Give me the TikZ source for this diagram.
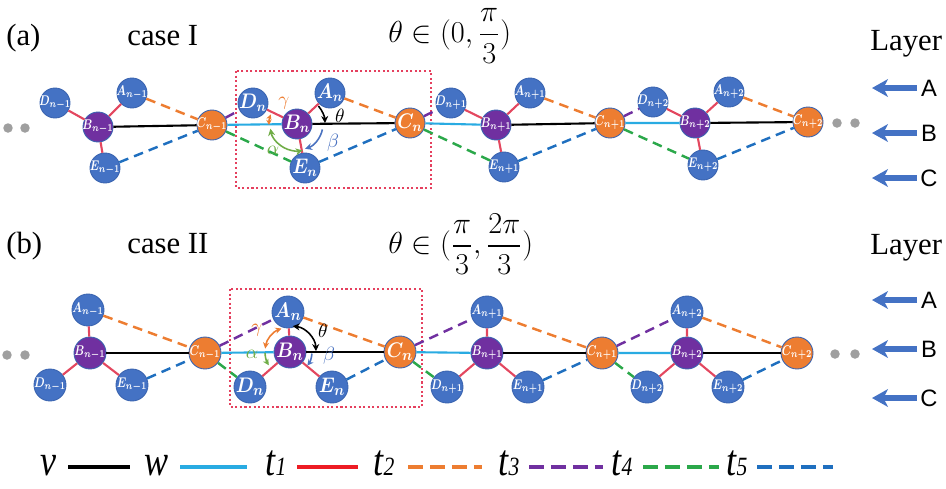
\documentclass[tikz,border=0pt]{standalone}
\usepackage{amsmath}
\usepackage{graphicx}
\usepackage{fontspec}
\setmainfont{Liberation Serif}
\newfontfamily\arialfont{Liberation Sans}
\usetikzlibrary{arrows.meta}
\definecolor{nodeblue}{HTML}{4472C4}
\definecolor{nodeline}{HTML}{3A64B0}
\definecolor{nodepurple}{HTML}{7030A0}
\definecolor{nodeorange}{HTML}{ED7D31}
\definecolor{bondred}{HTML}{E3475F}
\definecolor{legred}{HTML}{ED1C24}
\definecolor{wblue}{HTML}{29ABE2}
\definecolor{tgreen}{HTML}{2BA84A}
\definecolor{tblue}{HTML}{1F6FBF}
\definecolor{boxred}{HTML}{E5405E}
\definecolor{alphagreen}{HTML}{70AD47}
\definecolor{betablue}{HTML}{4A72C0}

\newcommand{\nlab}[2]{\makebox[0pt]{\scalebox{0.74}[1]{$\boldsymbol{#1_{#2}}$}}}
\newcommand{\mlab}[2]{\makebox[0pt]{\scalebox{0.88}[1]{$\boldsymbol{#1_{#2}}$}}}
\newcommand{\legsym}[1]{\scalebox{0.82}[1]{#1}}

\begin{document}
\begin{tikzpicture}[
      x=0.02cm, y=0.02cm,
      atom/.style={circle, draw=nodeline, line width=0.5pt, inner sep=0pt,
                   minimum size=0.6cm, text=white,
                   font=\fontsize{8.5}{8.5}\selectfont},
      sa/.style={atom, fill=nodeblue},
      sb/.style={atom, fill=nodepurple},
      sc/.style={atom, fill=nodeorange},
      big/.style={font=\fontsize{11.5}{11.5}\selectfont},
      bigger/.style={font=\fontsize{12.5}{12.5}\selectfont},
      wide/.style={minimum size=0.64cm},
      dotnd/.style={circle, fill=gray!75, inner sep=0pt, minimum size=0.19cm},
      vbond/.style={black, line width=1.2pt},
      wbond/.style={wblue, line width=1.2pt},
      tbond1/.style={bondred, line width=1.2pt},
      tbond2/.style={nodeorange, line width=1.4pt, dash pattern=on 5.5pt off 3.5pt},
      tbond3/.style={nodepurple, line width=1.4pt, dash pattern=on 5.5pt off 3.5pt},
      tbond4/.style={tgreen, line width=1.4pt, dash pattern=on 5.5pt off 3.5pt},
      tbond5/.style={tblue, line width=1.4pt, dash pattern=on 5.5pt off 3.5pt},
      cellbox/.style={boxred, line width=1.2pt, dash pattern=on 1.2pt off 1.4pt},
      ttl/.style={font=\fontsize{17.5}{20}\selectfont, inner sep=0pt},
      laytxt/.style={font=\arialfont\fontsize{13.5}{14}\selectfont, inner sep=2pt},
      layarr/.style={nodeblue, line width=3.4pt, -{Stealth[length=9pt, width=10pt, inset=2.5pt]}},
      angarr/.style={line width=0.9pt},
      anglbl/.style={font=\fontsize{11}{11}\selectfont, inner sep=0pt},
      legtxt/.style={font=\fontsize{25}{25}\selectfont\itshape, inner sep=0pt},
      legln/.style={line width=2.3pt},
      legdash/.style={line width=2.3pt, dash pattern=on 8.5pt off 4pt}
    ]
    \useasboundingbox (0,0) rectangle (946,-488);

    % ---------- (a) case I ----------
    \node[ttl, anchor=base west] (tagA)   at (6,-45)   {(a)};
    \node[ttl, anchor=base west] (caseA)  at (127,-45) {case I};
    \node[ttl, anchor=west]      (rangeA) at (388,-36) {$\theta\in(0,\dfrac{\pi}{3})$};
    \node[ttl, anchor=base west] (layerA) at (870,-50) {Layer};

    \draw[cellbox] (236,-71) rectangle (431,-188);

    \node[dotnd] (aL1) at (8,-128)  {};
    \node[dotnd] (aL2) at (25,-128) {};
    \node[dotnd] (aR1) at (837,-123) {};
    \node[dotnd] (aR2) at (855,-123) {};

    \node[sa] (aD1) at (55,-103)  {\nlab{D}{n-1}};
    \node[sa] (aA1) at (132,-93)  {\nlab{A}{n-1}};
    \node[sb] (aB1) at (98,-127)  {\nlab{B}{n-1}};
    \node[sa] (aE1) at (105,-168) {\nlab{E}{n-1}};
    \node[sc] (aC1) at (212,-125) {\nlab{C}{n-1}};

    \node[sa, big] (aD2) at (253,-103) {\mlab{D}{n}};
    \node[sa, big] (aA2) at (330,-93)  {\mlab{A}{n}};
    \node[sb, big] (aB2) at (297,-124) {\mlab{B}{n}};
    \node[sa, big] (aE2) at (305,-168) {\mlab{E}{n}};
    \node[sc, big] (aC2) at (410,-123) {\mlab{C}{n}};

    \node[sa] (aD3) at (451,-103) {\nlab{D}{n+1}};
    \node[sa] (aA3) at (530,-93)  {\nlab{A}{n+1}};
    \node[sb] (aB3) at (496,-125) {\nlab{B}{n+1}};
    \node[sa] (aE3) at (504,-167) {\nlab{E}{n+1}};
    \node[sc] (aC3) at (610,-123) {\nlab{C}{n+1}};

    \node[sa] (aD4) at (653,-102) {\nlab{D}{n+2}};
    \node[sa] (aA4) at (729,-92)  {\nlab{A}{n+2}};
    \node[sb] (aB4) at (695,-123) {\nlab{B}{n+2}};
    \node[sa] (aE4) at (703,-165) {\nlab{E}{n+2}};
    \node[sc] (aC4) at (808,-122) {\nlab{C}{n+2}};

    \draw[vbond] (aB1) -- (aC1) (aB2) -- (aC2) (aB3) -- (aC3) (aB4) -- (aC4);
    \draw[wbond] (aC1) -- (aB2) (aC2) -- (aB3) (aC3) -- (aB4);
    \draw[tbond1] (aB1) -- (aA1) (aB1) -- (aD1) (aB1) -- (aE1)
                  (aB2) -- (aA2) (aB2) -- (aD2) (aB2) -- (aE2)
                  (aB3) -- (aA3) (aB3) -- (aD3) (aB3) -- (aE3)
                  (aB4) -- (aA4) (aB4) -- (aD4) (aB4) -- (aE4);
    \draw[tbond2] (aA1) -- (aC1) (aA2) -- (aC2) (aA3) -- (aC3) (aA4) -- (aC4);
    \draw[tbond3] (aC1) -- (aD2) (aC2) -- (aD3) (aC3) -- (aD4);
    \draw[tbond4] (aC1) -- (aE2) (aC2) -- (aE3) (aC3) -- (aE4);
    \draw[tbond5] (aE1) -- (aC1) (aE2) -- (aC2) (aE3) -- (aC3) (aE4) -- (aC4);

    % angles around B_n
    \draw[angarr, black, -{Stealth[length=4pt,width=4pt]}]
      ([shift={(40:0.56cm)}]aB2.center) arc[start angle=40, end angle=2, radius=0.56cm];
    \draw[angarr, betablue, -{Stealth[length=4pt,width=4pt]}]
      ([shift={(-12:0.52cm)}]aB2.center) arc[start angle=-12, end angle=-72, radius=0.52cm];
    \draw[angarr, alphagreen, {Stealth[length=4pt,width=4pt]}-{Stealth[length=4pt,width=4pt]}]
      ([shift={(190:0.54cm)}]aB2.center) arc[start angle=190, end angle=282, radius=0.54cm];
    \draw[angarr, nodeorange, {Stealth[length=3pt,width=3pt]}-{Stealth[length=3pt,width=3pt]}]
      ([shift={(160:0.56cm)}]aB2.center) arc[start angle=160, end angle=182, radius=0.56cm];
    \node[anglbl]                    (thA) at (340,-116) {$\theta$};
    \node[anglbl, text=betablue]     (btA) at (333,-143) {$\beta$};
    \node[anglbl, text=alphagreen]   (alA) at (273,-150) {$\alpha$};
    \node[anglbl, text=nodeorange]   (gmA) at (284,-103) {$\gamma$};

    % layer arrows
    \node[laytxt] (layA) at (929,-88)  {A};
    \node[laytxt] (layB) at (929,-133) {B};
    \node[laytxt] (layC) at (929,-178) {C};
    \coordinate (tipA) at (872,-88);
    \coordinate (tipB) at (872,-133);
    \coordinate (tipC) at (872,-178);
    \draw[layarr] (layA) -- (tipA);
    \draw[layarr] (layB) -- (tipB);
    \draw[layarr] (layC) -- (tipC);

    % ---------- (b) case II ----------
    \node[ttl, anchor=base west] (tagB)   at (6,-253)   {(b)};
    \node[ttl, anchor=base west] (caseB)  at (127,-253) {case II};
    \node[ttl, anchor=west]      (rangeB) at (388,-244) {$\theta\in(\dfrac{\pi}{3},\dfrac{2\pi}{3})$};
    \node[ttl, anchor=base west] (layerB) at (870,-254) {Layer};

    \draw[cellbox] (230,-289) rectangle (422,-407);

    \node[dotnd] (bL1) at (7,-355)  {};
    \node[dotnd] (bL2) at (25,-355) {};
    \node[dotnd] (bR1) at (835,-354) {};
    \node[dotnd] (bR2) at (855,-354) {};

    \node[sa, wide] (bA1) at (88,-310)  {\nlab{A}{n-1}};
    \node[sb, wide] (bB1) at (90,-353)  {\nlab{B}{n-1}};
    \node[sa, wide] (bD1) at (50,-385)  {\nlab{D}{n-1}};
    \node[sa, wide] (bE1) at (132,-385) {\nlab{E}{n-1}};
    \node[sc, wide] (bC1) at (205,-353) {\nlab{C}{n-1}};

    \node[sa, wide, bigger] (bA2) at (288,-312) {\mlab{A}{n}};
    \node[sb, wide, bigger] (bB2) at (290,-352) {\mlab{B}{n}};
    \node[sa, wide, bigger] (bD2) at (250,-387) {\mlab{D}{n}};
    \node[sa, wide, bigger] (bE2) at (332,-387) {\mlab{E}{n}};
    \node[sc, wide, bigger] (bC2) at (400,-352) {\mlab{C}{n}};

    \node[sa, wide] (bD3) at (447,-387) {\nlab{D}{n+1}};
    \node[sa, wide] (bA3) at (487,-312) {\nlab{A}{n+1}};
    \node[sb, wide] (bB3) at (487,-353) {\nlab{B}{n+1}};
    \node[sa, wide] (bE3) at (528,-387) {\nlab{E}{n+1}};
    \node[sc, wide] (bC3) at (602,-353) {\nlab{C}{n+1}};

    \node[sa, wide] (bD4) at (647,-387) {\nlab{D}{n+2}};
    \node[sa, wide] (bA4) at (687,-312) {\nlab{A}{n+2}};
    \node[sb, wide] (bB4) at (687,-353) {\nlab{B}{n+2}};
    \node[sa, wide] (bE4) at (728,-387) {\nlab{E}{n+2}};
    \node[sc, wide] (bC4) at (797,-353) {\nlab{C}{n+2}};

    \draw[vbond] (bB1) -- (bC1) (bB2) -- (bC2) (bB3) -- (bC3) (bB4) -- (bC4);
    \draw[wbond] (bC1) -- (bB2) (bC2) -- (bB3) (bC3) -- (bB4);
    \draw[tbond1] (bB1) -- (bA1) (bB1) -- (bD1) (bB1) -- (bE1)
                  (bB2) -- (bA2) (bB2) -- (bD2) (bB2) -- (bE2)
                  (bB3) -- (bA3) (bB3) -- (bD3) (bB3) -- (bE3)
                  (bB4) -- (bA4) (bB4) -- (bD4) (bB4) -- (bE4);
    \draw[tbond2] (bA1) -- (bC1) (bA2) -- (bC2) (bA3) -- (bC3) (bA4) -- (bC4);
    \draw[tbond3] (bC1) -- (bA2) (bC2) -- (bA3) (bC3) -- (bA4);
    \draw[tbond4] (bC1) -- (bD2) (bC2) -- (bD3) (bC3) -- (bD4);
    \draw[tbond5] (bE1) -- (bC1) (bE2) -- (bC2) (bE3) -- (bC3) (bE4) -- (bC4);

    % angles around B_n
    \draw[angarr, black, {Stealth[length=4pt,width=4pt]}-{Stealth[length=4pt,width=4pt]}]
      ([shift={(84:0.52cm)}]bB2.center) arc[start angle=84, end angle=2, radius=0.52cm];
    \draw[angarr, nodeorange, {Stealth[length=3.5pt,width=3.5pt]}-{Stealth[length=3.5pt,width=3.5pt]}]
      ([shift={(110:0.5cm)}]bB2.center) arc[start angle=110, end angle=172, radius=0.5cm];
    \draw[angarr, alphagreen, -{Stealth[length=3.5pt,width=3.5pt]}]
      ([shift={(182:0.5cm)}]bB2.center) arc[start angle=182, end angle=212, radius=0.5cm];
    \draw[angarr, betablue, -{Stealth[length=3.5pt,width=3.5pt]}]
      ([shift={(-4:0.44cm)}]bB2.center) arc[start angle=-4, end angle=-38, radius=0.44cm];
    \node[anglbl]                    (thB) at (323,-331) {$\theta$};
    \node[anglbl, text=nodeorange]   (gmB) at (257,-330) {$\gamma$};
    \node[anglbl, text=alphagreen]   (alB) at (252,-354) {$\alpha$};
    \node[anglbl, text=betablue]     (btB) at (329,-356) {$\beta$};

    % layer arrows
    \node[laytxt] (layA2) at (929,-300) {A};
    \node[laytxt] (layB2) at (929,-349) {B};
    \node[laytxt] (layC2) at (929,-398) {C};
    \coordinate (tipA2) at (872,-300);
    \coordinate (tipB2) at (872,-349);
    \coordinate (tipC2) at (872,-398);
    \draw[layarr] (layA2) -- (tipA2);
    \draw[layarr] (layB2) -- (tipB2);
    \draw[layarr] (layC2) -- (tipC2);

    % ---------- legend ----------
    \node[legtxt, anchor=base] (legv)  at (48,-475)  {\legsym{v}};
    \node[legtxt, anchor=base] (legw)  at (157,-475) {\legsym{w}};
    \node[legtxt, anchor=base] (legt1) at (276,-475) {\legsym{t{\fontsize{15}{15}\selectfont 1}}};
    \node[legtxt, anchor=base] (legt2) at (384,-475) {\legsym{t{\fontsize{15}{15}\selectfont 2}}};
    \node[legtxt, anchor=base] (legt3) at (509,-475) {\legsym{t{\fontsize{15}{15}\selectfont 3}}};
    \node[legtxt, anchor=base] (legt4) at (622,-475) {\legsym{t{\fontsize{15}{15}\selectfont 4}}};
    \node[legtxt, anchor=base] (legt5) at (737,-475) {\legsym{t{\fontsize{15}{15}\selectfont 5}}};
    \coordinate (v0) at (68,-467);   \coordinate (v1) at (130,-467);
    \coordinate (w0) at (180,-467);  \coordinate (w1) at (247,-467);
    \coordinate (p0) at (297,-467);  \coordinate (p1) at (358,-467);
    \coordinate (q0) at (408,-467);  \coordinate (q1) at (482,-467);
    \coordinate (r0) at (529,-467);  \coordinate (r1) at (603,-467);
    \coordinate (s0) at (643,-467);  \coordinate (s1) at (719,-467);
    \coordinate (u0) at (757,-467);  \coordinate (u1) at (833,-467);
    \draw[legln, black]        (v0) -- (v1);
    \draw[legln, wblue]        (w0) -- (w1);
    \draw[legln, legred]       (p0) -- (p1);
    \draw[legdash, nodeorange] (q0) -- (q1);
    \draw[legdash, nodepurple] (r0) -- (r1);
    \draw[legdash, tgreen]     (s0) -- (s1);
    \draw[legdash, tblue]      (u0) -- (u1);
  \end{tikzpicture}
\end{document}
